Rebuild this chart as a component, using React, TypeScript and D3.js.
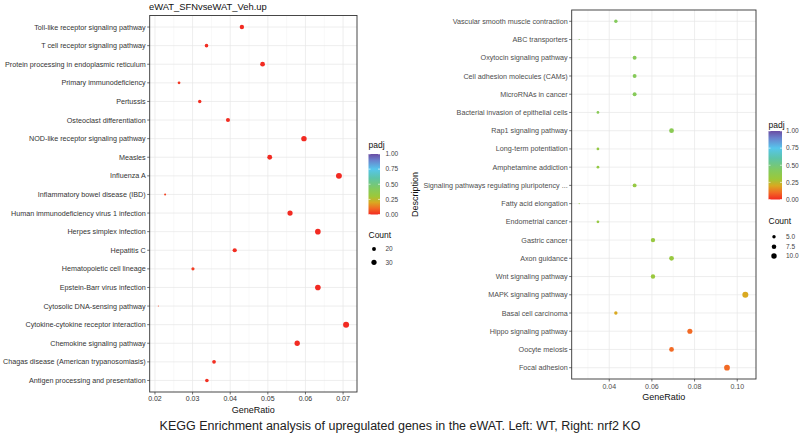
import React from "react";
import * as d3 from "d3";

// ---------- Left panel (WT) ----------
const leftTerms = [
  "Toll-like receptor signaling pathway",
  "T cell receptor signaling pathway",
  "Protein processing in endoplasmic reticulum",
  "Primary immunodeficiency",
  "Pertussis",
  "Osteoclast differentiation",
  "NOD-like receptor signaling pathway",
  "Measles",
  "Influenza A",
  "Inflammatory bowel disease (IBD)",
  "Human immunodeficiency virus 1 infection",
  "Herpes simplex infection",
  "Hepatitis C",
  "Hematopoietic cell lineage",
  "Epstein-Barr virus infection",
  "Cytosolic DNA-sensing pathway",
  "Cytokine-cytokine receptor interaction",
  "Chemokine signaling pathway",
  "Chagas disease (American trypanosomiasis)",
  "Antigen processing and presentation",
];
const leftRatio = [0.0431, 0.0337, 0.0486, 0.0264, 0.0319, 0.0394, 0.0596, 0.0505, 0.0689, 0.0227, 0.0559, 0.0633, 0.0412, 0.0301, 0.0633, 0.0209, 0.0708, 0.0578, 0.0357, 0.0338];
const leftCount = [23, 18, 26, 14, 17, 21, 32, 27, 37, 12, 30, 34, 22, 16, 34, 11, 38, 31, 19, 18];
const leftPadj = [0.002, 0.005, 0.002, 0.02, 0.006, 0.004, 0.0005, 0.001, 0.0002, 0.04, 0.001, 0.0004, 0.006, 0.03, 0.0004, 0.045, 0.0001, 0.001, 0.008, 0.01];
const leftTicks = [0.02, 0.03, 0.04, 0.05, 0.06, 0.07];
const leftMinor = [0.025, 0.035, 0.045, 0.055, 0.065];
const leftCountLegend = [20, 30];

// ---------- Right panel (nrf2 KO) ----------
const rightTerms = [
  "Vascular smooth muscle contraction",
  "ABC transporters",
  "Oxytocin signaling pathway",
  "Cell adhesion molecules (CAMs)",
  "MicroRNAs in cancer",
  "Bacterial invasion of epithelial cells",
  "Rap1 signaling pathway",
  "Long-term potentiation",
  "Amphetamine addiction",
  "Signaling pathways regulating pluripotency ...",
  "Fatty acid elongation",
  "Endometrial cancer",
  "Gastric cancer",
  "Axon guidance",
  "Wnt signaling pathway",
  "MAPK signaling pathway",
  "Basal cell carcinoma",
  "Hippo signaling pathway",
  "Oocyte meiosis",
  "Focal adhesion",
];
const rightRatio = [0.0431, 0.0259, 0.0519, 0.0519, 0.0519, 0.0347, 0.0692, 0.0347, 0.0347, 0.0519, 0.0259, 0.0347, 0.0605, 0.0692, 0.0605, 0.1038, 0.0431, 0.0778, 0.0692, 0.0952];
const rightCount = [5, 3, 6, 6, 6, 4, 8, 4, 4, 6, 3, 4, 7, 8, 7, 12, 5, 9, 8, 11];
const rightPadj = [0.42, 0.42, 0.41, 0.41, 0.41, 0.4, 0.39, 0.34, 0.34, 0.33, 0.33, 0.33, 0.32, 0.32, 0.31, 0.2, 0.2, 0.1, 0.1, 0.1];
const rightTicks = [0.04, 0.06, 0.08, 0.1];
const rightMinor = [0.03, 0.05, 0.07, 0.09];
const rightCountLegend = [5, 7.5, 10];

// ---------- Colour gradient ----------
const padjStops = [0, 0.1, 0.2, 0.3, 0.42, 0.6, 0.75, 0.9, 1];
const padjColors = ["#F22A22", "#F26A24", "#D9A921", "#9CC83A", "#84CA5C", "#5DC4A8", "#56C6EC", "#6A80CC", "#6A4CA3"];
const legendLabels = ["1.00", "0.75", "0.50", "0.25", "0.00"];

const captionText = "KEGG Enrichment analysis of upregulated genes in the eWAT. Left: WT, Right: nrf2 KO";
const titleText = "eWAT_SFNvseWAT_Veh.up";

const FONT = "'Liberation Sans', Arial, Helvetica, sans-serif";
const color = d3.scaleLinear<string>().domain(padjStops).range(padjColors).interpolate(d3.interpolateRgb);

type PanelProps = {
  terms: string[];
  ratio: number[];
  count: number[];
  padj: number[];
  ticks: number[];
  minor: number[];
  xDomain: [number, number];
  x0: number;
  x1: number;
  y0: number;
  y1: number;
  tickFmt: (v: number) => string;
  labelColor: string;
  rScale: (c: number) => number;
  xTitleY: number;
  tickLabelDy: number;
};

function Panel(p: PanelProps) {
  const x = d3.scaleLinear().domain(p.xDomain).range([p.x0, p.x1]);
  const y = d3.scalePoint<string>().domain(p.terms).range([p.y0, p.y1]).padding(0.62);
  return (
    <g>
      {p.minor.map((v) => (
        <line key={"mn" + v} x1={x(v)} x2={x(v)} y1={p.y0} y2={p.y1} stroke="#F1F1F1" strokeWidth={0.5} />
      ))}
      {p.ticks.map((v) => (
        <line key={"mj" + v} x1={x(v)} x2={x(v)} y1={p.y0} y2={p.y1} stroke="#E6E6E6" strokeWidth={0.7} />
      ))}
      {p.terms.map((t) => (
        <line key={"h" + t} x1={p.x0} x2={p.x1} y1={y(t)!} y2={y(t)!} stroke="#E6E6E6" strokeWidth={0.7} />
      ))}
      <rect x={p.x0} y={p.y0} width={p.x1 - p.x0} height={p.y1 - p.y0} fill="none" stroke="#333" strokeWidth={0.9} />
      {p.terms.map((t, i) => (
        <circle key={"pt" + t} cx={x(p.ratio[i])} cy={y(t)!} r={p.rScale(p.count[i])} fill={color(p.padj[i])} />
      ))}
      {p.terms.map((t) => (
        <g key={"yl" + t}>
          <line x1={p.x0 - 2.5} x2={p.x0} y1={y(t)!} y2={y(t)!} stroke="#333" strokeWidth={0.7} />
          <text x={p.x0 - 4} y={y(t)!} dy="0.35em" textAnchor="end" fontSize={7.2} fill={p.labelColor} fontFamily={FONT}>
            {t}
          </text>
        </g>
      ))}
      {p.ticks.map((v) => (
        <g key={"xt" + v}>
          <line x1={x(v)} x2={x(v)} y1={p.y1} y2={p.y1 + 2.5} stroke="#333" strokeWidth={0.7} />
          <text x={x(v)} y={p.y1 + p.tickLabelDy} textAnchor="middle" fontSize={7} fill={p.labelColor} fontFamily={FONT}>
            {p.tickFmt(v)}
          </text>
        </g>
      ))}
      <text x={(p.x0 + p.x1) / 2} y={p.xTitleY} textAnchor="middle" fontSize={9} fill="#111" fontFamily={FONT}>
        GeneRatio
      </text>
    </g>
  );
}

type LegendProps = {
  x: number;
  padjY: number;
  barTop: number;
  barBottom: number;
  barW: number;
  labelX: number;
  countY: number;
  countVals: number[];
  countYs: number[];
  rScale: (c: number) => number;
  gid: string;
  fmt: (v: number) => string;
};

function Legend(l: LegendProps) {
  const yb = d3.scaleLinear().domain([1, 0]).range([l.barTop, l.barBottom]);
  return (
    <g fontFamily={FONT}>
      <defs>
        <linearGradient id={l.gid} x1="0" y1="1" x2="0" y2="0">
          {padjStops.map((s, i) => (
            <stop key={s} offset={s} stopColor={padjColors[i]} />
          ))}
        </linearGradient>
      </defs>
      <text x={l.x} y={l.padjY} fontSize={8.5} fill="#111">padj</text>
      <rect x={l.x} y={l.barTop} width={l.barW} height={l.barBottom - l.barTop} fill={`url(#${l.gid})`} />
      {legendLabels.map((s) => {
        const v = +s;
        return (
          <g key={s}>
            <line x1={l.x} x2={l.x + 2} y1={yb(v)} y2={yb(v)} stroke="#fff" strokeWidth={0.6} />
            <line x1={l.x + l.barW - 2} x2={l.x + l.barW} y1={yb(v)} y2={yb(v)} stroke="#fff" strokeWidth={0.6} />
            <text x={l.labelX} y={yb(v)} dy="0.35em" fontSize={6.5} fill="#444">{s}</text>
          </g>
        );
      })}
      <text x={l.x} y={l.countY} fontSize={8.5} fill="#111">Count</text>
      {l.countVals.map((c, i) => (
        <g key={"c" + c}>
          <circle cx={l.x + 5.5} cy={l.countYs[i]} r={l.rScale(c)} fill="#000" />
          <text x={l.labelX} y={l.countYs[i]} dy="0.35em" fontSize={6.5} fill="#444">{l.fmt(c)}</text>
        </g>
      ))}
    </g>
  );
}

export default function App() {
  const lMin = d3.min(leftCount)!;
  const lMax = d3.max(leftCount)!;
  const lSqrt = d3.scaleSqrt().domain([0, lMax - lMin]).range([0.55, 3.0]);
  const lR = (c: number) => lSqrt(Math.max(0, c - lMin));
  const rMin = d3.min(rightCount)!;
  const rMax = d3.max(rightCount)!;
  const rSqrt = d3.scaleSqrt().domain([0, rMax - rMin]).range([0.55, 3.0]);
  const rR = (c: number) => rSqrt(Math.max(0, c - rMin));

  return (
    <svg width={800} height={434} style={{ position: "absolute", left: 0, top: 0, background: "#fff" }}>
      <rect width={800} height={434} fill="#fff" />
      <text x={149} y={10} fontSize={9.4} fill="#111" fontFamily={FONT}>{titleText}</text>
      <Panel
        terms={leftTerms}
        ratio={leftRatio}
        count={leftCount}
        padj={leftPadj}
        ticks={leftTicks}
        minor={leftMinor}
        xDomain={[0.0186, 0.0737]}
        x0={149.7}
        x1={357}
        y0={15.5}
        y1={392}
        tickFmt={d3.format(".2f")}
        labelColor="#333"
        rScale={lR}
        xTitleY={412.5}
        tickLabelDy={8.8}
      />
      <Legend
        x={368.5}
        padjY={148}
        barTop={154}
        barBottom={214.5}
        barW={11.5}
        labelX={385.5}
        countY={238}
        countVals={leftCountLegend}
        countYs={[249, 262.3]}
        rScale={lR}
        gid="gradL"
        fmt={(v) => String(v)}
      />
      <text
        transform={`translate(418,194.5) rotate(-90)`}
        textAnchor="middle"
        fontSize={9}
        fill="#111"
        fontFamily={FONT}
      >
        Description
      </text>
      <Panel
        terms={rightTerms}
        ratio={rightRatio}
        count={rightCount}
        padj={rightPadj}
        ticks={rightTicks}
        minor={rightMinor}
        xDomain={[0.0224, 0.1088]}
        x0={571.7}
        x1={756}
        y0={10}
        y1={379}
        tickFmt={d3.format(".2f")}
        labelColor="#4d4d4d"
        rScale={rR}
        xTitleY={399.5}
        tickLabelDy={9.5}
      />
      <Legend
        x={768.5}
        padjY={128}
        barTop={131}
        barBottom={199.5}
        barW={13.5}
        labelX={786}
        countY={224}
        countVals={rightCountLegend}
        countYs={[236.7, 246.7, 256]}
        rScale={rR}
        gid="gradR"
        fmt={d3.format(".1f")}
      />
      <text x={400} y={430} textAnchor="middle" fontSize={12.5} fill="#222" fontFamily={FONT}>
        {captionText}
      </text>
    </svg>
  );
}
